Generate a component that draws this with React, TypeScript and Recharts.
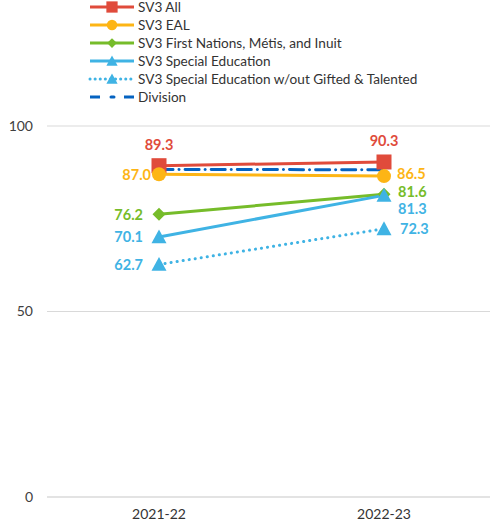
import React from "react";
import {
  LineChart,
  Line,
  XAxis,
  YAxis,
  CartesianGrid,
  LabelList,
} from "recharts";

const categories = ["2021-22", "2022-23"];
const sv3All = [89.3, 90.3];
const sv3Eal = [87.0, 86.5];
const sv3Fnmi = [76.2, 81.6];
const sv3SpEd = [70.1, 81.3];
const sv3SpEdNoGT = [62.7, 72.3];
const division = [88.3, 88.2];
const yTicks = [0, 50, 100];

const data = categories.map((year, i) => ({
  year,
  all: sv3All[i],
  eal: sv3Eal[i],
  fnmi: sv3Fnmi[i],
  sped: sv3SpEd[i],
  spedNoGT: sv3SpEdNoGT[i],
  division: division[i],
}));

const RED = "#E04B3B";
const ORANGE = "#FDB515";
const GREEN = "#76BC2A";
const BLUE = "#3FB3E4";
const NAVY = "#0563C1";
const FONT = "Lato, 'Open Sans', sans-serif";

type Shape = "square" | "circle" | "diamond" | "triangle" | "none";

function marker(shape: Shape, cx: number, cy: number, color: string, s = 1) {
  if (shape === "square") {
    const h = 7.5 * s;
    return <rect x={cx - h} y={cy - h} width={h * 2} height={h * 2} fill={color} />;
  }
  if (shape === "circle") return <circle cx={cx} cy={cy} r={7 * s} fill={color} />;
  if (shape === "diamond") {
    const h = 6.5 * s;
    return (
      <polygon
        points={`${cx},${cy - h} ${cx + h},${cy} ${cx},${cy + h} ${cx - h},${cy}`}
        fill={color}
      />
    );
  }
  if (shape === "triangle") {
    const h = 7.5 * s;
    return (
      <polygon
        points={`${cx},${cy - h} ${cx + h},${cy + h * 0.85} ${cx - h},${cy + h * 0.85}`}
        fill={color}
      />
    );
  }
  return null;
}

const dot = (shape: Shape, color: string) => (props: any) => {
  const { cx, cy, index } = props;
  if (cx == null || cy == null) return <g key={index} />;
  return <g key={index}>{marker(shape, cx, cy, color)}</g>;
};

// where each value label sits: [dx, dy, anchor] per category
type Place = [number, number, "start" | "middle" | "end"];

const valueLabel = (color: string, places: Place[]) => (props: any) => {
  const { x, y, value, index } = props;
  const [dx, dy, anchor] = places[index];
  return (
    <text
      x={x + dx}
      y={y + dy}
      fill={color}
      textAnchor={anchor}
      dominantBaseline="central"
      fontFamily={FONT}
      fontWeight={700}
      fontSize={14.5}
    >
      {Number(value).toFixed(1)}
    </text>
  );
};

const series = [
  { key: "all", name: "SV3 All", color: RED, shape: "square" as Shape, dash: undefined },
  { key: "eal", name: "SV3 EAL", color: ORANGE, shape: "circle" as Shape, dash: undefined },
  {
    key: "fnmi",
    name: "SV3 First Nations, Métis, and Inuit",
    color: GREEN,
    shape: "diamond" as Shape,
    dash: undefined,
  },
  { key: "sped", name: "SV3 Special Education", color: BLUE, shape: "triangle" as Shape, dash: undefined },
  {
    key: "spedNoGT",
    name: "SV3 Special Education w/out Gifted & Talented",
    color: BLUE,
    shape: "triangle" as Shape,
    dash: "0.1 6",
  },
  { key: "division", name: "Division", color: NAVY, shape: "none" as Shape, dash: "14 6 0.1 6" },
];

function LegendBox() {
  return (
    <svg width={490} height={108} style={{ display: "block" }}>
      {series.map((s, i) => {
        const y = 7 + i * 18;
        return (
          <g key={s.key}>
            {s.key === "division" ? (
              <g stroke={NAVY} strokeWidth={3}>
                <line x1={90} x2={100} y1={y} y2={y} />
                <line x1={111} x2={114} y1={y} y2={y} strokeLinecap="round" />
                <line x1={124} x2={134} y1={y} y2={y} />
              </g>
            ) : (
              <line
                x1={90}
                x2={134}
                y1={y}
                y2={y}
                stroke={s.color}
                strokeWidth={3}
                strokeDasharray={s.dash ? "0.1 5" : undefined}
                strokeLinecap={s.dash ? "round" : "butt"}
              />
            )}
            {marker(s.shape, 112, y, s.color, 0.75)}
            <text
              x={138}
              y={y}
              dominantBaseline="central"
              fontFamily={FONT}
              fontSize={13.6}
              fill="#333"
            >
              {s.name}
            </text>
          </g>
        );
      })}
    </svg>
  );
}

const labelPlaces: Record<string, Place[]> = {
  all: [
    [0, -21, "middle"],
    [0, -21, "middle"],
  ],
  eal: [
    [-8, 0, "end"],
    [13, -3, "start"],
  ],
  fnmi: [
    [-16, 0, "end"],
    [14, -3, "start"],
  ],
  sped: [
    [-16, 0, "end"],
    [14, 13, "start"],
  ],
  spedNoGT: [
    [-16, 0, "end"],
    [16, 0, "start"],
  ],
};

export default function App() {
  return (
    <div
      style={{
        position: "absolute",
        left: 0,
        top: 0,
        width: 490,
        height: 530,
        overflow: "hidden",
        background: "#fff",
      }}
    >
      <LineChart
        width={496}
        height={530}
        data={data}
        margin={{ top: 126, right: 0, bottom: 0, left: 0 }}
      >
        <CartesianGrid vertical={false} stroke="#D9D9D9" strokeWidth={1.2} />
        <XAxis
          dataKey="year"
          padding={{ left: 112, right: 112 }}
          axisLine={{ stroke: "#D9D9D9", strokeWidth: 1.2 }}
          tickLine={false}
          tickMargin={6}
          height={33}
          tick={{ fill: "#333", fontSize: 14, fontFamily: FONT }}
        />
        <YAxis
          domain={[0, 100]}
          ticks={yTicks}
          width={47}
          axisLine={false}
          tickLine={false}
          tickMargin={8}
          tick={{ fill: "#404040", fontSize: 14, fontFamily: FONT }}
        />
        <Line
          dataKey="division"
          name="Division"
          stroke={NAVY}
          strokeWidth={3}
          strokeDasharray="14 6 0.1 6"
          strokeLinecap="round"
          dot={false}
          activeDot={false}
          isAnimationActive={false}
        />
        {series
          .filter((s) => s.key !== "division")
          .map((s) => (
            <Line
              key={s.key}
              dataKey={s.key}
              name={s.name}
              stroke={s.color}
              strokeWidth={3}
              strokeDasharray={s.dash}
              strokeLinecap={s.dash ? "round" : "butt"}
              dot={dot(s.shape, s.color)}
              activeDot={false}
              isAnimationActive={false}
            >
              <LabelList dataKey={s.key} content={valueLabel(s.color, labelPlaces[s.key])} />
            </Line>
          ))}
      </LineChart>
      <div style={{ position: "absolute", left: 0, top: 0 }}>
        <LegendBox />
      </div>
    </div>
  );
}
